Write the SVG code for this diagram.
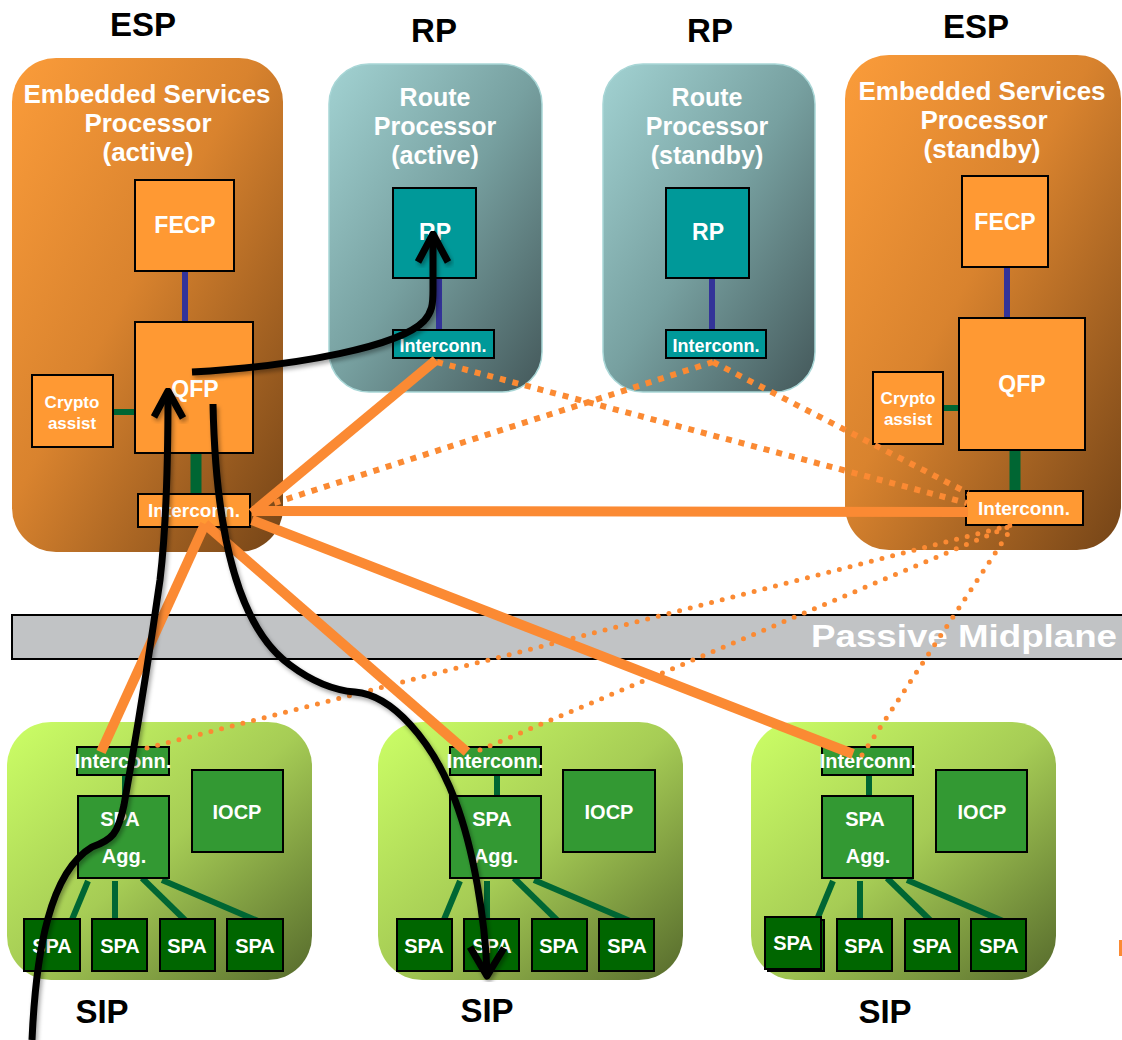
<svg xmlns="http://www.w3.org/2000/svg" width="1122" height="1040" viewBox="0 0 1122 1040">
<defs>
<linearGradient id="gEsp" x1="0" y1="0" x2="1" y2="1">
<stop offset="0" stop-color="#FB9C3A"/><stop offset="0.45" stop-color="#D9832E"/><stop offset="1" stop-color="#744417"/>
</linearGradient>
<linearGradient id="gRp" x1="0" y1="0" x2="1" y2="1">
<stop offset="0" stop-color="#A2D2D2"/><stop offset="0.5" stop-color="#77A0A0"/><stop offset="1" stop-color="#44585A"/>
</linearGradient>
<linearGradient id="gSip" x1="0" y1="0" x2="1" y2="1">
<stop offset="0" stop-color="#CCFF66"/><stop offset="0.5" stop-color="#A6CC55"/><stop offset="1" stop-color="#566A2C"/>
</linearGradient>
<filter id="sh" x="-10%" y="-10%" width="130%" height="130%">
<feDropShadow dx="2" dy="3" stdDeviation="2" flood-color="#000" flood-opacity="0.35"/>
</filter>
<style>
text{font-family:"Liberation Sans",Arial,Helvetica,sans-serif;font-weight:bold;text-anchor:middle}
.title{font-size:33px;fill:#000}
.ctitle{font-size:26px;fill:#fff}
.rtitle{font-size:25px;fill:#fff}
.esp{fill:url(#gEsp)}
.rp{fill:url(#gRp);stroke:#A8D6D6;stroke-width:1.5}
.sip{fill:url(#gSip)}
.ob{fill:#FF9933;stroke:#000;stroke-width:2}
.tb{fill:#009999;stroke:#000;stroke-width:2}
.gb{fill:#339933;stroke:#000;stroke-width:2}
.sb{fill:#006600;stroke:#000;stroke-width:2}
.wt{fill:#fff}
.blue{stroke:#333399;stroke-width:6}
.grn{stroke:#006633;stroke-width:6}
.grnw{stroke:#006633;stroke-width:11}
.solid{stroke:#FB8A33;stroke-width:10;fill:none}
.sq{stroke:#FB8A33;stroke-width:6;stroke-dasharray:6 7;fill:none}
.dot{stroke:#FB8A33;stroke-width:5;stroke-dasharray:0 11;stroke-linecap:round;fill:none}
.blk{stroke:#000;stroke-width:7;fill:none;stroke-linecap:butt;stroke-linejoin:round;filter:url(#sh)}
</style>
</defs>
<rect width="1122" height="1040" fill="#fff"/>

<g id="esp-active">
<text class="title" x="143" y="36">ESP</text>
<rect class="esp" x="12" y="58" width="271" height="494" rx="44"/>
<text class="ctitle" x="147" y="103">Embedded Services</text>
<text class="ctitle" x="148" y="132">Processor</text>
<text class="ctitle" x="148" y="161">(active)</text>
<line class="blue" x1="185" y1="271" x2="185" y2="322"/>
<line class="grn" x1="113" y1="412" x2="135" y2="412"/>
<line class="grnw" x1="196" y1="453" x2="196" y2="494"/>
<rect class="ob" x="135" y="180" width="99" height="91"/>
<text class="wt" x="185" y="233" font-size="23">FECP</text>
<rect class="ob" x="135" y="322" width="118" height="131"/>
<text class="wt" x="195" y="397" font-size="23">QFP</text>
<rect class="ob" x="32" y="375" width="81" height="72"/>
<text class="wt" x="72" y="408" font-size="17">Crypto</text>
<text class="wt" x="72" y="429" font-size="17">assist</text>
<rect class="ob" x="138" y="494" width="112" height="33"/>
<text class="wt" x="194" y="517" font-size="19">Interconn.</text>
</g>

<g id="rp-active">
<text class="title" x="434" y="42">RP</text>
<rect class="rp" x="329" y="64" width="213" height="328" rx="40"/>
<text class="rtitle" x="435" y="106">Route</text>
<text class="rtitle" x="435" y="135">Processor</text>
<text class="rtitle" x="435" y="164">(active)</text>
<line class="blue" x1="439" y1="278" x2="439" y2="330"/>
<rect class="tb" x="393" y="188" width="83" height="90"/>
<text class="wt" x="435" y="240" font-size="23">RP</text>
<rect class="tb" x="393" y="330" width="101" height="28"/>
<text class="wt" x="443" y="352" font-size="18">Interconn.</text>
</g>

<g id="rp-standby">
<text class="title" x="710" y="42">RP</text>
<rect class="rp" x="603" y="64" width="212" height="328" rx="40"/>
<text class="rtitle" x="707" y="106">Route</text>
<text class="rtitle" x="707" y="135">Processor</text>
<text class="rtitle" x="707" y="164">(standby)</text>
<line class="blue" x1="712" y1="278" x2="712" y2="330"/>
<rect class="tb" x="666" y="188" width="83" height="90"/>
<text class="wt" x="708" y="240" font-size="23">RP</text>
<rect class="tb" x="666" y="330" width="100" height="28"/>
<text class="wt" x="716" y="352" font-size="18">Interconn.</text>
</g>

<g id="esp-standby">
<text class="title" x="976" y="38">ESP</text>
<rect class="esp" x="845" y="55" width="276" height="495" rx="44"/>
<text class="ctitle" x="982" y="100">Embedded Services</text>
<text class="ctitle" x="984" y="129">Processor</text>
<text class="ctitle" x="982" y="158">(standby)</text>
<line class="blue" x1="1007" y1="267" x2="1007" y2="318"/>
<line class="grn" x1="943" y1="408" x2="959" y2="408"/>
<line class="grnw" x1="1015" y1="450" x2="1015" y2="491"/>
<rect class="ob" x="962" y="176" width="86" height="91"/>
<text class="wt" x="1005" y="230" font-size="23">FECP</text>
<rect class="ob" x="959" y="318" width="126" height="132"/>
<text class="wt" x="1022" y="392" font-size="23">QFP</text>
<rect class="ob" x="873" y="372" width="70" height="72"/>
<text class="wt" x="908" y="404" font-size="17">Crypto</text>
<text class="wt" x="908" y="425" font-size="17">assist</text>
<rect class="ob" x="966" y="491" width="117" height="34"/>
<text class="wt" x="1024" y="515" font-size="19">Interconn.</text>
</g>

<g id="midplane">
<rect x="12" y="615" width="1116" height="44" fill="#C1C3C5" stroke="#000" stroke-width="2"/>
<text x="964" y="647" font-size="31" fill="#fff" textLength="306" lengthAdjust="spacingAndGlyphs">Passive Midplane</text>
</g>

<g id="sip1">
<rect class="sip" x="7" y="722" width="305" height="258" rx="44"/>
<line class="grn" x1="125" y1="775" x2="125" y2="796"/>
<line class="grn" x1="88" y1="881" x2="71" y2="922"/>
<line class="grn" x1="115" y1="881" x2="115" y2="922"/>
<line class="grn" x1="142" y1="878" x2="187" y2="922"/>
<line class="grn" x1="162" y1="880" x2="265" y2="924"/>
<rect class="gb" x="77" y="747" width="92" height="28"/>
<text class="wt" x="123" y="768" font-size="20">Interconn.</text>
<rect class="gb" x="78" y="796" width="91" height="82"/>
<text class="wt" x="120" y="826" font-size="20">SPA</text>
<text class="wt" x="124" y="863" font-size="20">Agg.</text>
<rect class="gb" x="192" y="770" width="91" height="82"/>
<text class="wt" x="237" y="819" font-size="20">IOCP</text>
<rect class="sb" x="24" y="919" width="56" height="52"/>
<text class="wt" x="52" y="953" font-size="20">SPA</text>
<rect class="sb" x="92" y="919" width="55" height="52"/>
<text class="wt" x="120" y="953" font-size="20">SPA</text>
<rect class="sb" x="160" y="919" width="55" height="52"/>
<text class="wt" x="187" y="953" font-size="20">SPA</text>
<rect class="sb" x="227" y="919" width="56" height="52"/>
<text class="wt" x="255" y="953" font-size="20">SPA</text>
<text class="title" x="102" y="1023">SIP</text>
</g>

<g id="sip2">
<rect class="sip" x="378" y="722" width="305" height="258" rx="44"/>
<line class="grn" x1="497" y1="775" x2="497" y2="796"/>
<line class="grn" x1="460" y1="881" x2="443" y2="922"/>
<line class="grn" x1="487" y1="881" x2="487" y2="922"/>
<line class="grn" x1="514" y1="878" x2="559" y2="922"/>
<line class="grn" x1="534" y1="880" x2="637" y2="924"/>
<rect class="gb" x="450" y="747" width="91" height="28"/>
<text class="wt" x="495" y="768" font-size="20">Interconn.</text>
<rect class="gb" x="450" y="796" width="91" height="82"/>
<text class="wt" x="492" y="826" font-size="20">SPA</text>
<text class="wt" x="496" y="863" font-size="20">Agg.</text>
<rect class="gb" x="563" y="770" width="92" height="82"/>
<text class="wt" x="609" y="819" font-size="20">IOCP</text>
<rect class="sb" x="397" y="919" width="55" height="52"/>
<text class="wt" x="424" y="953" font-size="20">SPA</text>
<rect class="sb" x="464" y="919" width="55" height="52"/>
<text class="wt" x="492" y="953" font-size="20">SPA</text>
<rect class="sb" x="532" y="919" width="55" height="52"/>
<text class="wt" x="559" y="953" font-size="20">SPA</text>
<rect class="sb" x="599" y="919" width="55" height="52"/>
<text class="wt" x="627" y="953" font-size="20">SPA</text>
<text class="title" x="487" y="1022">SIP</text>
</g>

<g id="sip3">
<rect class="sip" x="751" y="722" width="305" height="258" rx="44"/>
<line class="grn" x1="869" y1="775" x2="869" y2="796"/>
<line class="grn" x1="833" y1="881" x2="816" y2="922"/>
<line class="grn" x1="860" y1="881" x2="860" y2="922"/>
<line class="grn" x1="887" y1="878" x2="932" y2="922"/>
<line class="grn" x1="907" y1="880" x2="1010" y2="924"/>
<rect class="gb" x="822" y="747" width="91" height="28"/>
<text class="wt" x="868" y="768" font-size="20">Interconn.</text>
<rect class="gb" x="822" y="796" width="91" height="82"/>
<text class="wt" x="865" y="826" font-size="20">SPA</text>
<text class="wt" x="868" y="863" font-size="20">Agg.</text>
<rect class="gb" x="936" y="770" width="91" height="82"/>
<text class="wt" x="982" y="819" font-size="20">IOCP</text>
<rect class="sb" x="768" y="920" width="56" height="51"/>
<rect class="sb" x="765" y="917" width="56" height="52"/>
<text class="wt" x="793" y="950" font-size="20">SPA</text>
<rect class="sb" x="837" y="919" width="55" height="52"/>
<text class="wt" x="864" y="953" font-size="20">SPA</text>
<rect class="sb" x="905" y="919" width="54" height="52"/>
<text class="wt" x="932" y="953" font-size="20">SPA</text>
<rect class="sb" x="971" y="919" width="55" height="52"/>
<text class="wt" x="999" y="953" font-size="20">SPA</text>
<text class="title" x="885" y="1023">SIP</text>
</g>

<rect x="1119" y="940" width="3" height="16" fill="#FB8A33"/>

<g id="connectors">
<line class="sq" x1="437" y1="362" x2="967" y2="503"/>
<line class="sq" x1="262" y1="507" x2="713" y2="362"/>
<line class="sq" x1="713" y1="362" x2="968" y2="493"/>
<line class="dot" x1="147" y1="748" x2="1012" y2="525"/>
<line class="dot" x1="480" y1="750" x2="1008" y2="527"/>
<line class="dot" x1="862" y1="755" x2="1013" y2="526"/>
<line class="solid" x1="436" y1="360" x2="252" y2="513"/>
<line class="solid" x1="252" y1="511" x2="968" y2="512"/>
<line class="solid" x1="252" y1="520" x2="853" y2="754"/>
<line class="solid" x1="205" y1="524" x2="467" y2="752"/>
<line class="solid" x1="205" y1="524" x2="101" y2="752"/>
<path class="blk" d="M192,372 C300,366 400,346 424,321 C432,312 433,305 433,290 L433,236"/>
<polyline class="blk" points="418,262 433,234 448,262"/>
<path class="blk" d="M32,1040 C36,950 50,872 92,847 C112,840 118,834 124,805 C132,760 150,650 160,580 C166,530 168,450 168,394"/>
<polyline class="blk" points="154,417 168,391 183,418"/>
<path class="blk" d="M213,404 C215,500 228,620 290,665 C310,680 330,690 355,692 C392,695 432,740 455,800 C474,850 485,920 487,972"/>
<polyline class="blk" points="470,947 487,976 504,948"/>
</g>
</svg>
